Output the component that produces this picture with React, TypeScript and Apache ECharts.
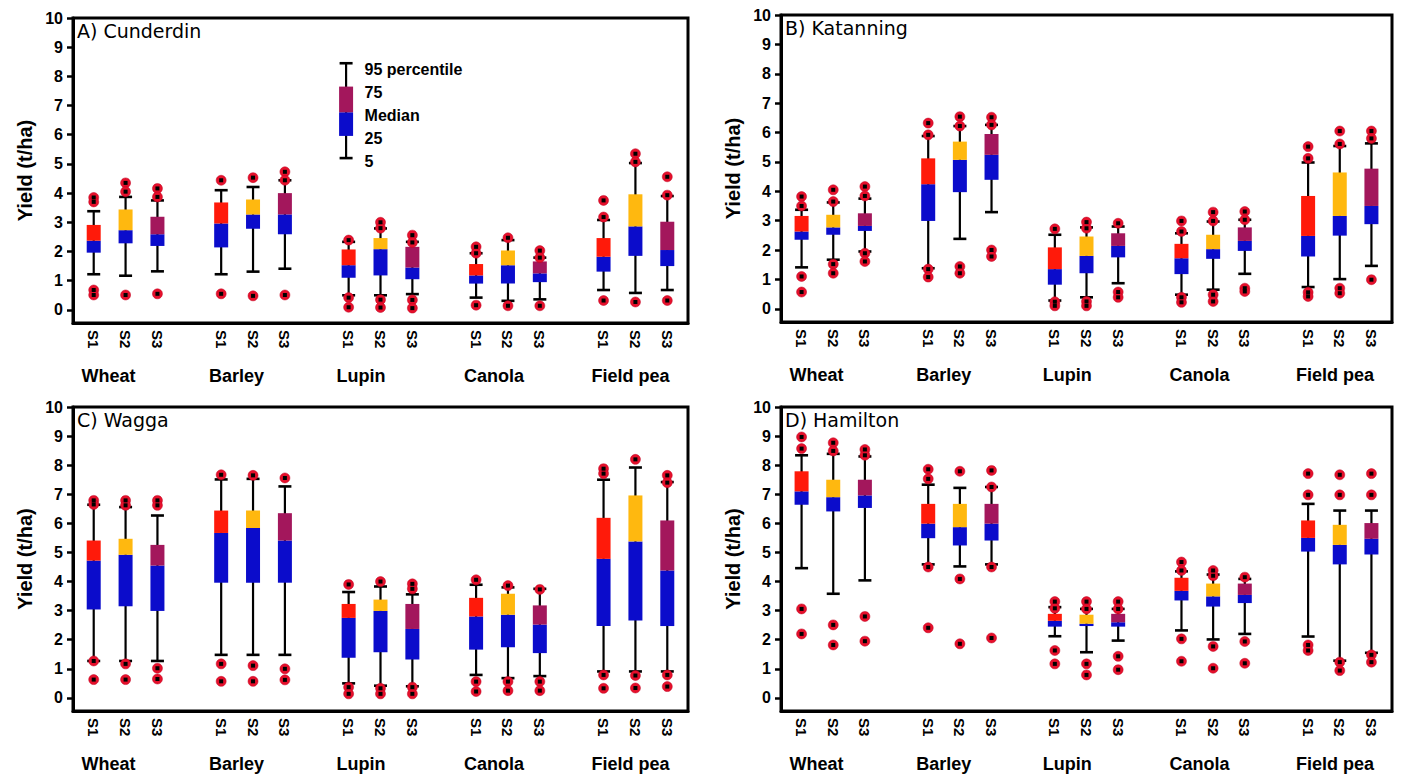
import React, { useEffect, useRef } from "react";
import * as echarts from "echarts";

const crops = ["Wheat", "Barley", "Lupin", "Canola", "Field pea"];
const scenarios = ["S1", "S2", "S3"];
const yTicks = [0, 1, 2, 3, 4, 5, 6, 7, 8, 9, 10];
const siteTitles = ["A) Cunderdin", "B) Katanning", "C) Wagga", "D) Hamilton"];

// [p5, p25, median, p75, p95] per crop x scenario (crop-major order)
const cunderdinStats = [
  [1.22, 1.96, 2.37, 2.91, 3.38], [1.17, 2.28, 2.73, 3.44, 3.87], [1.32, 2.19, 2.59, 3.19, 3.75],
  [1.22, 2.14, 2.96, 3.68, 4.10], [1.31, 2.78, 3.27, 3.78, 4.21], [1.41, 2.59, 3.27, 4.00, 4.44],
  [0.50, 1.10, 1.53, 2.07, 2.33], [0.50, 1.18, 2.08, 2.46, 2.79], [0.54, 1.05, 1.45, 2.16, 2.33],
  [0.42, 0.90, 1.18, 1.57, 1.94], [0.31, 0.90, 1.53, 2.03, 2.39], [0.36, 0.95, 1.25, 1.66, 1.79],
  [0.68, 1.31, 1.82, 2.46, 3.08], [0.58, 1.85, 2.86, 3.96, 5.03], [0.68, 1.50, 2.05, 3.02, 3.90],
];
const cunderdinOutliers = [
  [3.85, 3.70, 0.68, 0.51], [4.35, 4.05, 0.51], [4.16, 3.87, 0.55],
  [4.44, 0.55], [4.53, 0.48], [4.73, 4.44, 0.51],
  [2.39, 0.42, 0.09], [3.00, 2.80, 0.35, 0.08], [2.56, 2.31, 0.34, 0.06],
  [2.16, 1.94, 0.16], [2.47, 0.14], [2.03, 1.79, 0.14],
  [3.75, 3.18, 0.32], [5.35, 5.07, 0.27], [4.56, 3.93, 0.32],
];

const katanningStats = [
  [1.41, 2.35, 2.63, 3.16, 3.37], [1.67, 2.52, 2.77, 3.20, 3.62], [1.95, 2.65, 2.82, 3.25, 3.75],
  [1.38, 2.99, 4.24, 5.12, 5.88], [2.38, 3.97, 5.07, 5.69, 6.22], [3.29, 4.39, 5.24, 5.95, 6.26],
  [0.28, 0.82, 1.35, 2.09, 2.52], [0.39, 1.21, 1.80, 2.46, 2.77], [0.87, 1.75, 2.14, 2.57, 2.80],
  [0.48, 1.18, 1.72, 2.21, 2.57], [0.65, 1.70, 2.03, 2.52, 2.97], [1.19, 1.97, 2.31, 2.77, 3.03],
  [0.74, 1.78, 2.48, 3.84, 4.98], [1.01, 2.49, 3.16, 4.64, 5.54], [1.46, 2.88, 3.50, 4.77, 5.63],
];
const katanningOutliers = [
  [3.82, 3.50, 1.10, 0.57], [4.05, 3.65, 1.52, 1.21], [4.16, 3.84, 1.89, 1.61],
  [6.32, 5.92, 1.35, 1.08], [6.54, 6.22, 1.44, 1.21], [6.52, 6.26, 2.00, 1.78],
  [2.72, 0.24, 0.10], [2.95, 2.74, 0.25, 0.10], [2.91, 0.57, 0.39],
  [2.99, 2.63, 0.39, 0.22], [3.29, 2.99, 0.48, 0.25], [3.31, 3.03, 0.70, 0.59],
  [5.52, 5.12, 0.56, 0.42], [6.05, 5.61, 0.70, 0.53], [6.05, 5.80, 0.99],
];

const waggaStats = [
  [1.27, 3.04, 4.72, 5.41, 6.64], [1.27, 3.15, 4.92, 5.47, 6.56], [1.27, 2.99, 4.55, 5.26, 6.27],
  [1.48, 3.96, 5.67, 6.44, 7.51], [1.48, 3.96, 5.84, 6.44, 7.53], [1.48, 3.96, 5.41, 6.35, 7.27],
  [0.50, 1.38, 2.75, 3.23, 3.64], [0.42, 1.57, 2.99, 3.38, 3.83], [0.40, 1.32, 2.37, 3.23, 3.56],
  [0.79, 1.66, 2.80, 3.44, 3.89], [0.68, 1.74, 2.86, 3.58, 3.80], [0.75, 1.54, 2.52, 3.18, 3.75],
  [0.91, 2.47, 4.78, 6.19, 7.50], [0.91, 2.66, 5.38, 6.96, 7.92], [0.91, 2.47, 4.38, 6.10, 7.42],
];
const waggaOutliers = [
  [6.79, 6.65, 1.27, 0.63], [6.79, 6.62, 1.17, 0.63], [6.79, 6.62, 1.02, 0.65],
  [7.67, 1.17, 0.57], [7.65, 1.11, 0.57], [7.56, 1.00, 0.62],
  [3.90, 0.37, 0.14], [4.00, 0.33, 0.14], [3.92, 3.75, 0.37, 0.14],
  [4.06, 0.56, 0.22], [3.86, 0.56, 0.25], [3.73, 0.56, 0.25],
  [7.88, 7.71, 0.79, 0.33], [8.20, 0.77, 0.34], [7.65, 7.40, 0.79, 0.39],
];

const hamiltonStats = [
  [4.46, 6.64, 7.10, 7.79, 8.34], [3.58, 6.41, 6.90, 7.50, 8.39], [4.04, 6.53, 6.96, 7.50, 8.30],
  [4.59, 5.49, 5.99, 6.67, 7.33], [4.52, 5.24, 5.87, 6.67, 7.22], [4.59, 5.41, 5.99, 6.67, 7.25],
  [2.12, 2.45, 2.65, 2.89, 3.12], [1.57, 2.47, 2.55, 2.86, 3.06], [1.97, 2.45, 2.60, 2.89, 3.06],
  [2.32, 3.35, 3.68, 4.13, 4.35], [2.01, 3.14, 3.49, 3.93, 4.24], [2.20, 3.26, 3.54, 3.93, 4.09],
  [2.11, 5.03, 5.50, 6.10, 6.67], [1.28, 4.59, 5.26, 5.95, 6.44], [1.55, 4.93, 5.47, 6.01, 6.44],
];
const hamiltonOutliers = [
  [8.97, 8.57, 3.06, 2.20], [8.77, 8.49, 2.51, 1.82], [8.54, 8.34, 2.80, 1.95],
  [7.86, 7.53, 4.50, 2.41], [7.79, 4.09, 1.86], [7.82, 7.25, 4.50, 2.06],
  [3.31, 3.08, 1.63, 1.17], [3.31, 3.06, 1.17, 0.79], [3.31, 3.06, 1.43, 0.97],
  [4.67, 4.38, 2.03, 1.26], [4.38, 4.20, 1.77, 1.02], [4.15, 1.94, 1.19],
  [7.71, 6.98, 1.82, 1.63], [7.67, 6.98, 1.23, 0.94], [7.71, 6.98, 1.48, 1.23],
];

// legend (key) drawn in panel A: [x, p5, p25, median, p75, p95]
const legendBox = [8.92, 5.2, 5.96, 6.77, 7.65, 8.45];
const legendLabels = ["95 percentile", "75", "Median", "25", "5"];
const legendLabelLevels = [8.22, 7.44, 6.65, 5.86, 5.08];
const legendLabelX = 9.5;

const allStats = [cunderdinStats, katanningStats, waggaStats, hamiltonStats];
const allOutliers = [cunderdinOutliers, katanningOutliers, waggaOutliers, hamiltonOutliers];

const upperColors = ["#ff1a0a", "#ffb80f", "#a3175c"];
const lowerColor = "#0b0ccb";
const FONT = "'Liberation Sans', Arial, sans-serif";

const grids = [
  { left: 73, top: 18, width: 615, height: 305 },
  { left: 781, top: 15, width: 611, height: 307 },
  { left: 73, top: 407, width: 615, height: 304 },
  { left: 781, top: 407, width: 611, height: 304 },
];

function boxChildren(api: any, x: number, vals: number[], color: string) {
  const p = vals.map((v) => api.coord([x, v]));
  const cx = p[0][0];
  const bw = 14;
  const cw = 13;
  const [y5, y25, y50, y75, y95] = p.map((q: number[]) => q[1]);
  return [
    { type: "line", shape: { x1: cx, y1: y5, x2: cx, y2: y95 }, style: { stroke: "#000", lineWidth: 2.2 } },
    { type: "line", shape: { x1: cx - cw / 2, y1: y5, x2: cx + cw / 2, y2: y5 }, style: { stroke: "#000", lineWidth: 2.6 } },
    { type: "line", shape: { x1: cx - cw / 2, y1: y95, x2: cx + cw / 2, y2: y95 }, style: { stroke: "#000", lineWidth: 2.6 } },
    { type: "rect", shape: { x: cx - bw / 2, y: y50, width: bw, height: y25 - y50 }, style: { fill: lowerColor } },
    { type: "rect", shape: { x: cx - bw / 2, y: y75, width: bw, height: y50 - y75 }, style: { fill: color } },
  ];
}

export default function App() {
  const ref = useRef<HTMLDivElement>(null);
  useEffect(() => {
    if (!ref.current) return;
    const chart = echarts.init(ref.current, null, { renderer: "svg" });
    const xAxes: any[] = [];
    const yAxes: any[] = [];
    const series: any[] = [];
    const titles: any[] = [];

    grids.forEach((g, i) => {
      titles.push({
        text: siteTitles[i],
        left: g.left + 4,
        top: g.top + 3,
        padding: 0,
        textStyle: { fontFamily: "'DejaVu Sans', sans-serif", fontWeight: "normal", fontSize: 19, color: "#000", lineHeight: 19 },
      });
      xAxes.push({
        type: "value",
        gridIndex: i,
        min: 0.35,
        max: 19.65,
        axisLine: { show: true, onZero: false, lineStyle: { color: "#000", width: 3 } },
        axisTick: { show: false },
        splitLine: { show: false },
        axisLabel: {
          customValues: crops.flatMap((_, c) => scenarios.map((_, s) => c * 4 + s + 1)),
          formatter: (v: number) => scenarios[Math.round(v - 1) % 4] ?? "",
          rotate: -90,
          margin: 7,
          fontFamily: FONT,
          fontWeight: "bold",
          fontSize: 15,
          color: "#000",
        },
      });
      xAxes.push({
        type: "value",
        gridIndex: i,
        position: "bottom",
        min: 0.35,
        max: 19.65,
        axisLine: { show: false, onZero: false },
        axisTick: { show: false },
        splitLine: { show: false },
        axisLabel: {
          customValues: crops.map((_, c) => c * 4 + 0.62),
          formatter: (v: number) => crops[Math.round((v - 0.62) / 4)] ?? "",
          align: "left",
          margin: 44,
          fontFamily: FONT,
          fontWeight: "bold",
          fontSize: 18,
          lineHeight: 18,
          color: "#000",
        },
      });
      yAxes.push({
        type: "value",
        gridIndex: i,
        min: -0.45,
        max: 10,
        name: "Yield (t/ha)",
        nameLocation: "middle",
        nameGap: 38,
        nameTextStyle: { fontFamily: FONT, fontWeight: "bold", fontSize: 20, color: "#000" },
        axisLine: { show: true, onZero: false, lineStyle: { color: "#000", width: 3 } },
        axisTick: { show: true, inside: false, length: 6, customValues: yTicks, lineStyle: { color: "#000", width: 2.5 } },
        splitLine: { show: false },
        axisLabel: {
          customValues: yTicks,
          margin: 10,
          fontFamily: FONT,
          fontWeight: "bold",
          fontSize: 16,
          color: "#000",
        },
      });

      const boxData = allStats[i].map((st, k) => {
        const c = Math.floor(k / 3);
        const s = k % 3;
        return [c * 4 + s + 1, ...st, s];
      });
      series.push({
        type: "custom",
        xAxisIndex: i * 2,
        yAxisIndex: i,
        data: boxData,
        z: 3,
        renderItem: (params: any, api: any) => {
          const x = api.value(0);
          const vals = [1, 2, 3, 4, 5].map((d) => api.value(d));
          const s = api.value(6);
          return { type: "group", children: boxChildren(api, x, vals, upperColors[s]) };
        },
      });
      const outData: number[][] = [];
      allOutliers[i].forEach((arr, k) => {
        const c = Math.floor(k / 3);
        const s = k % 3;
        arr.forEach((v) => outData.push([c * 4 + s + 1, v]));
      });
      series.push({
        type: "scatter",
        xAxisIndex: i * 2,
        yAxisIndex: i,
        data: outData,
        symbol: "circle",
        symbolSize: 10,
        itemStyle: { color: "#e5102b", borderColor: "#c00020", borderWidth: 0.5, opacity: 1 },
        z: 4,
      });
      series.push({
        type: "scatter",
        xAxisIndex: i * 2,
        yAxisIndex: i,
        data: outData,
        symbol: "rect",
        symbolSize: 4,
        itemStyle: { color: "#000", opacity: 1 },
        z: 5,
      });
    });

    series.push({
      type: "custom",
      xAxisIndex: 0,
      yAxisIndex: 0,
      data: [legendBox],
      z: 6,
      renderItem: (params: any, api: any) => {
        const x = api.value(0);
        const vals = [1, 2, 3, 4, 5].map((d) => api.value(d));
        const children: any[] = boxChildren(api, x, vals, upperColors[2]);
        legendLabels.forEach((t, j) => {
          const pt = api.coord([legendLabelX, legendLabelLevels[j]]);
          children.push({
            type: "text",
            x: pt[0],
            y: pt[1],
            style: {
              text: t,
              fill: "#000",
              font: `bold 16px ${FONT}`,
              textAlign: "left",
              textVerticalAlign: "middle",
            },
          });
        });
        return { type: "group", children };
      },
    });

    chart.setOption({
      animation: false,
      backgroundColor: "#fff",
      title: titles,
      grid: grids.map((g) => ({ ...g, show: true, borderColor: "#000", borderWidth: 3, backgroundColor: "transparent", containLabel: false })),
      xAxis: xAxes,
      yAxis: yAxes,
      series,
    });
    return () => chart.dispose();
  }, []);
  return <div ref={ref} style={{ position: "absolute", left: 0, top: 0, width: 1402, height: 776, background: "#fff" }} />;
}
